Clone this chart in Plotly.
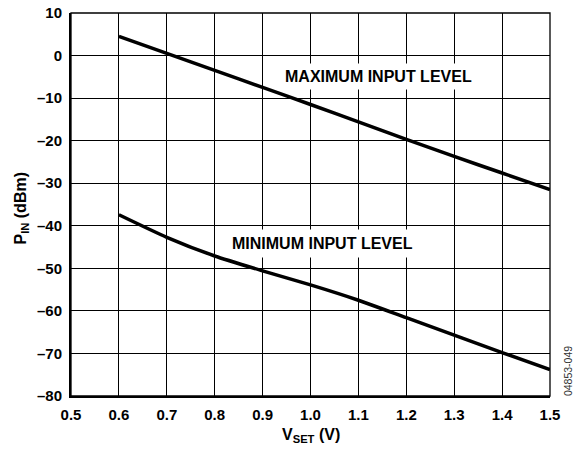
import plotly.graph_objects as go

# ── Data ──────────────────────────────────────────────────────────────────────
v_set = [0.6, 0.7, 0.8, 0.9, 1.0, 1.1, 1.2, 1.3, 1.4, 1.5]
p_in_max = [4.5, 0.5, -3.5, -7.5, -11.5, -15.6, -19.7, -23.7, -27.6, -31.5]
p_in_min = [-37.4, -42.7, -47.1, -50.6, -53.9, -57.5, -61.6, -65.7, -69.8, -73.8]

x_ticks = [0.5, 0.6, 0.7, 0.8, 0.9, 1.0, 1.1, 1.2, 1.3, 1.4, 1.5]
y_ticks = [10, 0, -10, -20, -30, -40, -50, -60, -70, -80]

FONT = 'Arial, Liberation Sans, sans-serif'

fig = go.Figure()

for y in (p_in_max, p_in_min):
    fig.add_trace(go.Scatter(
        x=v_set, y=y,
        mode='lines',
        line=dict(color='black', width=3.5, shape='spline', smoothing=0.6),
        showlegend=False,
        hoverinfo='skip',
    ))

AXIS_STYLE = dict(
    showgrid=True,
    gridcolor='black',
    gridwidth=1.3,
    showline=True,
    linecolor='black',
    linewidth=2,
    mirror=False,
    zeroline=False,
    automargin=False,
    tickmode='array',
    ticks='outside',
    ticklen=4,
    tickcolor='rgba(0,0,0,0)',
    tickfont=dict(family=FONT, size=15, color='black'),
    layer='above traces',
)

fig.update_layout(
    width=575, height=451,
    margin=dict(l=71, r=25, t=13, b=55, autoexpand=False),
    paper_bgcolor='white',
    plot_bgcolor='rgba(0,0,0,0)',
    font=dict(family=FONT, color='black'),
    xaxis=dict(
        **AXIS_STYLE,
        range=[0.5, 1.5],
        tickvals=x_ticks,
        ticktext=[f'<b>{v:.1f}</b>' for v in x_ticks],
    ),
    yaxis=dict(
        **AXIS_STYLE,
        range=[-80, 10],
        tickvals=y_ticks,
        ticktext=['<b>' + str(v).replace('-', '\u2013') + '</b>' for v in y_ticks],
    ),
    shapes=[dict(
        type='rect', xref='paper', yref='paper', layer='above',
        x0=0, y0=0, x1=1, y1=1,
        line=dict(color='black', width=1.3),
        fillcolor='rgba(0,0,0,0)',
    )],
    annotations=[
        dict(x=1.142, y=-4.9, xref='x', yref='y',
             text='<b>MAXIMUM INPUT LEVEL</b>', showarrow=False,
             font=dict(size=16),
             bgcolor='white', borderpad=4),
        dict(x=1.026, y=-44.2, xref='x', yref='y',
             text='<b>MINIMUM INPUT LEVEL</b>', showarrow=False,
             font=dict(size=16),
             bgcolor='white', borderpad=5),
        # axis titles placed as annotations
        dict(x=0.5, y=-0.102, xref='paper', yref='paper',
             xanchor='center', yanchor='middle',
             text='<b>V<sub>SET</sub> (V)</b>', showarrow=False,
             font=dict(size=16)),
        dict(x=-0.104, y=0.49, xref='paper', yref='paper',
             xanchor='center', yanchor='middle',
             text='<b>P<sub>IN</sub> (dBm)</b>', showarrow=False, textangle=-90,
             font=dict(size=16)),
        dict(x=1.0376, y=0.065, xref='paper', yref='paper',
             xanchor='center', yanchor='middle',
             text='04853-049', showarrow=False, textangle=-90,
             font=dict(size=10.5, color='#333333')),
    ],
)

# the page body has a default 8px margin; drop it so the figure sits at 0,0
fig.write_html('out.html', config={'displayModeBar': False},
               post_script="document.body.style.margin='0';")
